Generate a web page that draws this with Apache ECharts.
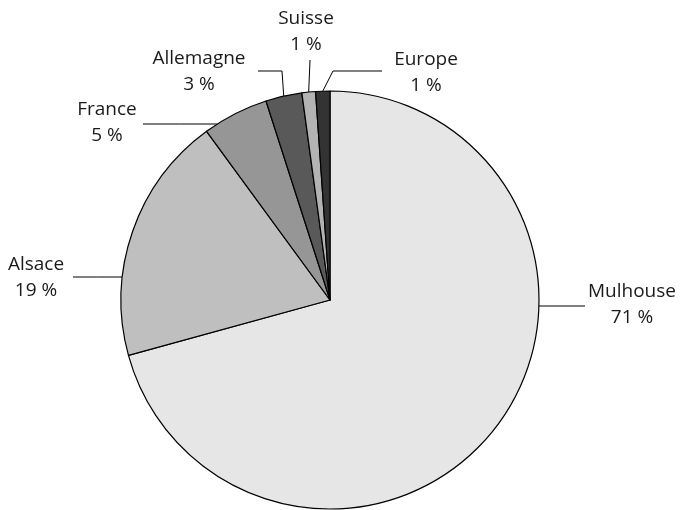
<!DOCTYPE html>
<html>
<head>
<meta charset="utf-8">
<script src="https://cdn.jsdelivr.net/npm/echarts@6/dist/echarts.min.js"></script>
<style>
  html, body { margin: 0; padding: 0; background: #fff; }
  #chart { width: 681px; height: 510px; }
</style>
</head>
<body>
<div id="chart"></div>
<script>
// shares of origin, clockwise from 12 o'clock
const categories = ['Mulhouse', 'Alsace', 'France', 'Allemagne', 'Suisse', 'Europe']
const shares = [70.7, 19.2, 5.1, 2.8, 1.05, 1.1]
const sliceColors = ['#e6e6e6', '#bfbfbf', '#969696', '#595959', '#b3b3b3', '#333333']

const CX = 330
const CY = 300
const R = 209

// where each label sits and how its leader line bends
const labelSpots = [
  { x: 632, y: 305, lineY: 306, lineEnd: 585, side: 1 },
  { x: 36, y: 278, lineY: 277, lineEnd: 73, side: -1 },
  { x: 107, y: 123, lineY: 124, lineEnd: 143, side: -1 },
  { x: 199, y: 72, elbow: [282, 71], lineEnd: 258 },
  { x: 306, y: 32, elbow: [310, 60], lineEnd: 310 },
  { x: 426, y: 73, elbow: [333, 71], lineEnd: 382 }
]

const total = shares.reduce((a, b) => a + b, 0)

function edgeAtMid(i) {
  let before = 0
  for (let k = 0; k < i; k++) before += shares[k]
  const a = (before + shares[i] / 2) / total * Math.PI * 2
  return [CX + R * Math.sin(a), CY - R * Math.cos(a)]
}

const chart = echarts.init(document.getElementById('chart'))
chart.setOption({
  animation: false,
  series: [
    {
      type: 'pie',
      center: [CX, CY],
      radius: R,
      startAngle: 90,
      clockwise: true,
      avoidLabelOverlap: false,
      emphasis: { disabled: true },
      itemStyle: {
        borderColor: '#000',
        borderWidth: 1.2
      },
      label: {
        show: true,
        position: 'outside',
        fontFamily: 'Open Sans',
        fontSize: 19,
        lineHeight: 26,
        color: '#1a1a1a',
        align: 'center',
        formatter: p => p.name + '\n' + Math.round(p.value) + ' %'
      },
      labelLine: {
        show: true,
        lineStyle: { color: '#000', width: 1 }
      },
      labelLayout: function (params) {
        const s = labelSpots[params.dataIndex]
        let pts
        if (s.elbow) {
          const e = edgeAtMid(params.dataIndex)
          pts = [e, s.elbow, [s.lineEnd, s.elbow[1]]]
        } else {
          const dx = Math.sqrt(R * R - (s.lineY - CY) * (s.lineY - CY))
          const sx = CX + s.side * dx
          pts = [[sx, s.lineY], [(sx + s.lineEnd) / 2, s.lineY], [s.lineEnd, s.lineY]]
        }
        return {
          x: s.x,
          y: s.y,
          align: 'center',
          verticalAlign: 'middle',
          labelLinePoints: pts
        }
      },
      data: categories.map((name, i) => ({
        name: name,
        value: shares[i],
        itemStyle: { color: sliceColors[i] }
      }))
    }
  ]
})
</script>
</body>
</html>
